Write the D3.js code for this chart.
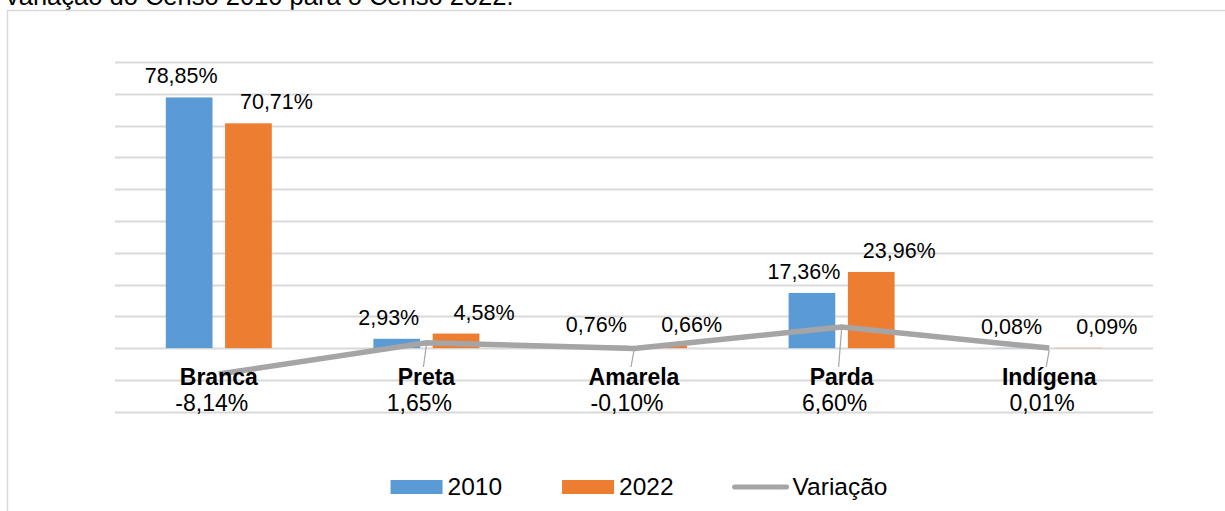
<!DOCTYPE html>
<html><head><meta charset="utf-8">
<script src="https://cdn.jsdelivr.net/npm/d3@7"></script>
<style>
html,body{margin:0;padding:0;background:#fff;}
svg{display:block;font-family:"Liberation Sans",Arial,sans-serif;}
</style></head>
<body>
<svg id="chart" width="1225" height="511"></svg>
<script>
const titleText = "variação do Censo 2010 para o Censo 2022.";
const categories = ["Branca", "Preta", "Amarela", "Parda", "Indígena"];
const values2010 = [78.85, 2.93, 0.76, 17.36, 0.08];
const values2022 = [70.71, 4.58, 0.66, 23.96, 0.09];
const variacao = [-8.14, 1.65, -0.10, 6.60, 0.01];
const seriesNames = ["2010", "2022", "Variação"];
const gridTicks = [-20, -10, 0, 10, 20, 30, 40, 50, 60, 70, 80, 90];

const colors = {"2010": "#5B9BD5", "2022": "#ED7D31", "Variação": "#A5A5A5"};
const fmt = v => v.toFixed(2).replace(".", ",") + "%";

const svg = d3.select("#chart");

// title (cropped at the top, as in the reference)
svg.append("text").attr("x", 6).attr("y", 5).attr("font-size", 25.5).attr("fill", "#000").text(titleText);

// chart border
svg.append("rect").attr("x", 7.5).attr("y", 10.5).attr("width", 1240).attr("height", 520)
  .attr("fill", "none").attr("stroke", "#d9d9d9").attr("stroke-width", 1.5);

const x0 = d3.scaleBand().domain(categories).range([115, 1153]).paddingInner(0).paddingOuter(0);
const y = d3.scaleLinear().domain([-20, 90]).range([411.7, 62]);
const x1 = d3.scaleBand().domain(["2010", "2022"])
  .range([x0.bandwidth() / 2 - 53, x0.bandwidth() / 2 + 53]).paddingInner(0.2125).paddingOuter(0);

// gridlines
svg.append("g").selectAll("line").data(gridTicks).join("line")
  .attr("x1", 115).attr("x2", 1153)
  .attr("y1", d => Math.round(y(d)) + 0.5).attr("y2", d => Math.round(y(d)) + 0.5)
  .attr("stroke", "#d9d9d9").attr("stroke-width", 1.8);

const rows = categories.map((c, i) => ({c, v2010: values2010[i], v2022: values2022[i], varv: variacao[i]}));

// bars
const gBars = svg.append("g");
rows.forEach(r => {
  [["2010", r.v2010], ["2022", r.v2022]].forEach(([s, v]) => {
    const bx = x0(r.c) + x1(s);
    gBars.append("rect")
      .attr("x", bx).attr("width", x1.bandwidth())
      .attr("y", y(Math.max(0, v))).attr("height", Math.abs(y(v) - y(0)))
      .attr("fill", colors[s]);
  });
});

// line
const cx = c => x0(c) + x0.bandwidth() / 2;
const line = d3.line().x(d => cx(d.c)).y(d => y(d.varv));
svg.append("path").datum(rows).attr("d", line)
  .attr("fill", "none").attr("stroke", colors["Variação"]).attr("stroke-width", 5.5)
  .attr("stroke-linejoin", "miter");

// leader lines
svg.append("g").selectAll("line").data(rows.filter(r => y(r.varv) < 362)).join("line")
  .attr("x1", d => cx(d.c)).attr("y1", d => y(d.varv) + 2)
  .attr("x2", d => cx(d.c) - 3).attr("y2", 367)
  .attr("stroke", "#A5A5A5").attr("stroke-width", 1.2);

// bar labels
const gLab = svg.append("g").attr("font-size", 21.5).attr("fill", "#000").attr("text-anchor", "middle");
rows.forEach(r => {
  [["2010", r.v2010, -8], ["2022", r.v2022, 28]].forEach(([s, v, dx]) => {
    gLab.append("text")
      .attr("x", x0(r.c) + x1(s) + x1.bandwidth() / 2 + dx)
      .attr("y", y(v) - 14)
      .text(fmt(v));
  });
});

// category labels
svg.append("g").selectAll("text").data(rows).join("text")
  .attr("x", d => cx(d.c)).attr("y", y(-10) + 4.6)
  .attr("text-anchor", "middle").attr("font-size", 23).attr("font-weight", "bold").attr("fill", "#000")
  .text(d => d.c);

// variation labels
svg.append("g").selectAll("text").data(rows).join("text")
  .attr("x", d => cx(d.c) - 7).attr("y", y(-20) - 1.2)
  .attr("text-anchor", "middle").attr("font-size", 23).attr("fill", "#000")
  .text(d => fmt(d.varv));

// legend
const leg = svg.append("g").attr("font-size", 24.5).attr("fill", "#000");
let lx = 0;
seriesNames.forEach((s) => {
  const g = leg.append("g").attr("transform", `translate(${lx},0)`);
  if (s === "Variação") {
    g.append("line").attr("x1", 1).attr("x2", 53).attr("y1", 487).attr("y2", 487)
      .attr("stroke", colors[s]).attr("stroke-width", 5).attr("stroke-linecap", "round");
  } else {
    g.append("rect").attr("x", 0).attr("y", 480).attr("width", 52).attr("height", 14).attr("fill", colors[s]);
  }
  const tx = s === "Variação" ? 59 : 57;
  const t = g.append("text").attr("x", tx).attr("y", 494.5).text(s);
  lx += tx + t.node().getComputedTextLength() + 60;
});
const totalW = lx - 60;
leg.attr("transform", `translate(${639 - totalW / 2},0)`);
</script>
</body></html>
